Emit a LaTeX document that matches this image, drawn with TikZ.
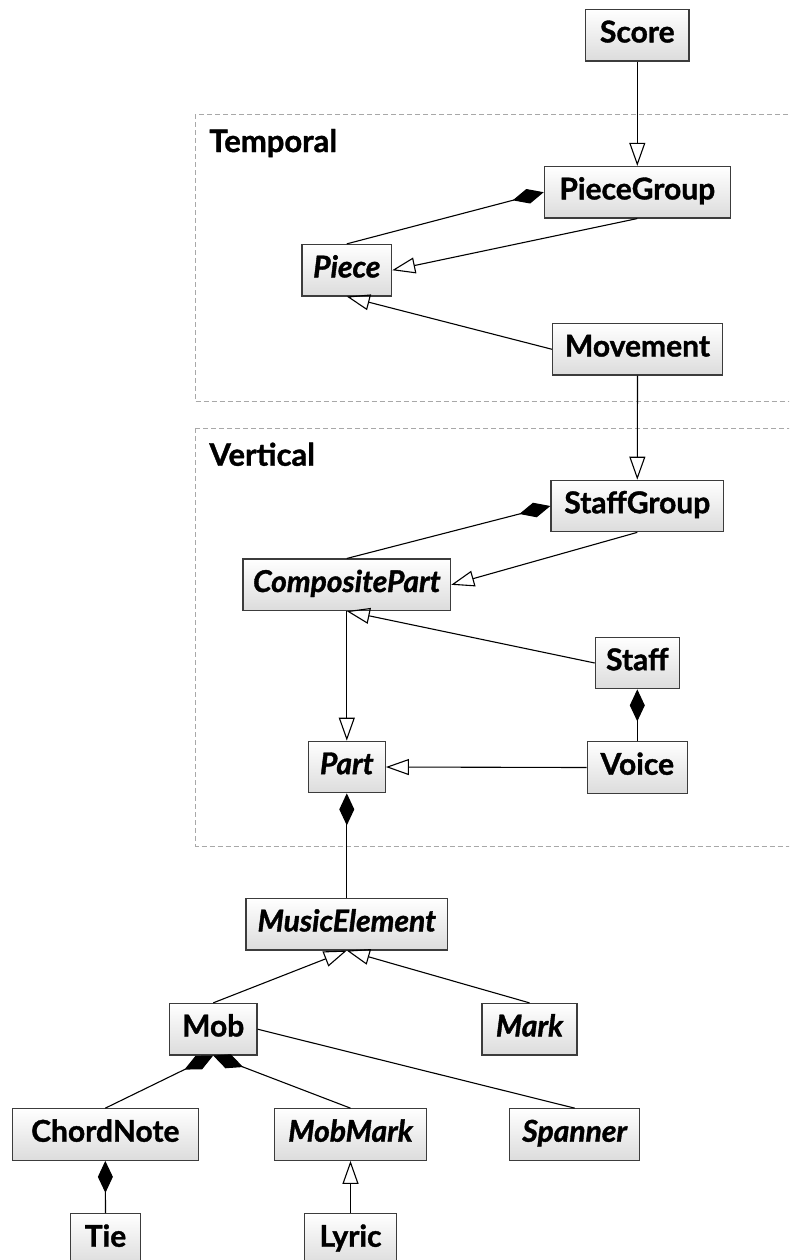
\documentclass[tikz,border=0pt]{standalone}
\usepackage{fontspec}
\setmainfont{Lato}[UprightFont=* Bold, ItalicFont=* Bold Italic,
  UprightFeatures={FakeBold=1.2}, ItalicFeatures={FakeBold=1.2}]
\usetikzlibrary{arrows.meta}
\definecolor{boxline}{HTML}{3C3C3C}
\definecolor{boxshade}{HTML}{DCDCDC}
\definecolor{framegray}{HTML}{A8A8A8}
\tikzset{
  cls/.style={draw=boxline, line width=0.6pt, top color=white, bottom color=boxshade,
    inner xsep=0pt, inner ysep=0pt, minimum height=25.75pt,
    text height=0.72em, text depth=0pt, font=\fontsize{15}{18}\selectfont},
  abstract/.style={cls, font=\fontsize{15}{18}\selectfont\itshape},
  link/.style={line width=0.55pt, black},
  gen/.style={link, -{Triangle[open, length=11.5pt, width=8pt, line width=0.55pt]}},
  comp/.style={link, -{Diamond[length=16pt, width=7.5pt]}},
  frame/.style={draw=framegray, line width=0.5pt, dash pattern=on 2.5pt off 1.5pt},
  framelabel/.style={anchor=base west, inner sep=0pt, font=\fontsize{15.5}{18}\selectfont}
}
\begin{document}
\begin{tikzpicture}[x=0.5pt, y=-0.5pt]
\useasboundingbox (0,0) rectangle (789,1260);
\clip (0,0) rectangle (789,1260);

% package frames
\draw[frame] (195.3,114) rectangle (820,401.7);
\draw[frame] (195.3,428.3) rectangle (820,846);
\node[framelabel] (temporal) at (209,152) {Temporal};
\node[framelabel] (vertical) at (209,465.7) {Vertical};

% classes
\node[cls, minimum width=51.65pt] (score) at (637.3,35.2) {Score};
\node[cls, minimum width=93pt] (piecegroup) at (637.3,192.2) {PieceGroup};
\node[abstract, minimum width=44.85pt] (piece) at (346.8,270.2) {Piece};
\node[cls, minimum width=84.8pt] (movement) at (637.5,349.3) {Movement};
\node[cls, minimum width=86.35pt] (staffgroup) at (637.3,506) {StaffGroup};
\node[abstract, minimum width=103.85pt] (compositepart) at (346.8,584.8) {CompositePart};
\node[cls, minimum width=42pt] (staff) at (637.3,663) {Staff};
\node[abstract, minimum width=38.5pt] (part) at (346.8,767) {Part};
\node[cls, minimum width=50pt] (voice) at (637.3,767.5) {Voice};
\node[abstract, minimum width=100.85pt] (musicelement) at (346.8,924.2) {MusicElement};
\node[cls, minimum width=43.85pt] (mob) at (213.2,1029.2) {Mob};
\node[abstract, minimum width=47.5pt] (mark) at (529.5,1029.2) {Mark};
\node[cls, minimum width=93pt] (chordnote) at (105.3,1134.5) {ChordNote};
\node[abstract, minimum width=76.2pt] (mobmark) at (350.5,1134.5) {MobMark};
\node[abstract, minimum width=65pt] (spanner) at (574.7,1134.5) {Spanner};
\node[cls, minimum width=34.8pt] (tie) at (105.5,1239.5) {Tie};
\node[cls, minimum width=46.2pt] (lyric) at (350.5,1239.5) {Lyric};

% temporal relations
\draw[gen] (score.south) -- (piecegroup.north);
\draw[comp] (piece.north) -- (piecegroup.west);
\draw[gen] (piecegroup.south) -- (piece.east);
\draw[gen] (movement.west) -- (piece.south);
\draw[gen] (movement.south) -- (staffgroup.north);

% vertical relations
\draw[comp] (compositepart.north) -- (staffgroup.west);
\draw[gen] (staffgroup.south) -- (compositepart.east);
\draw[gen] (staff.west) -- (compositepart.south);
\draw[gen] (compositepart.south) -- (part.north);
\draw[comp] (voice.north) -- (staff.south);
\draw[gen] (voice.west) -- (part.east);
\draw[comp] (musicelement.north) -- (part.south);

% music elements
\draw[gen] (mob.north) -- (musicelement.south);
\draw[gen] (mark.north) -- (musicelement.south);
\draw[link] (mob.east) -- (spanner.north);
\draw[comp] (chordnote.north) -- (mob.south);
\draw[comp] (mobmark.north) -- (mob.south);
\draw[comp] (tie.north) -- (chordnote.south);
\draw[gen] (lyric.north) -- (mobmark.south);
\end{tikzpicture}
\end{document}
